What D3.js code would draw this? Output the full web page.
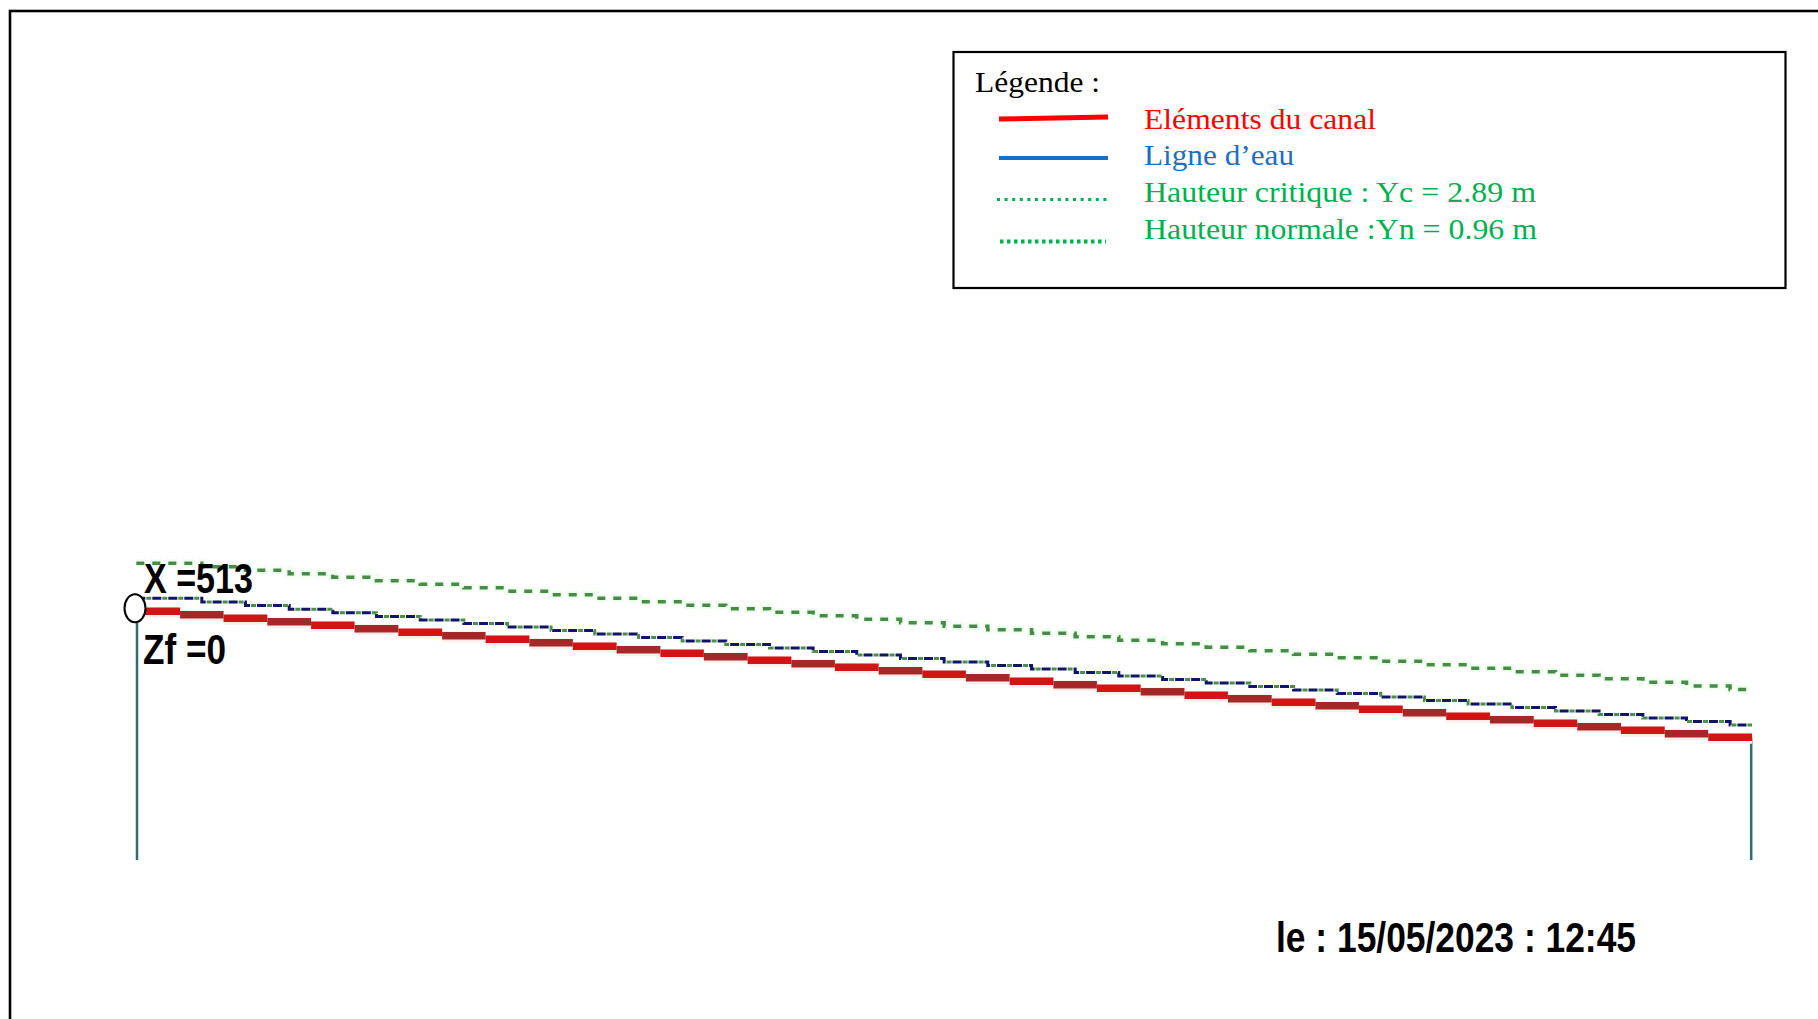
<!DOCTYPE html>
<html>
<head>
<meta charset="utf-8">
<script src="https://cdn.jsdelivr.net/npm/d3@7"></script>
<style>
  html, body { margin: 0; padding: 0; background: #fff; }
  svg { display: block; }
</style>
</head>
<body>
<script>
// ---------------- DATA ----------------
// element boundaries along the channel (m)
const stations = [0, 13.9, 27.7, 41.6, 55.5, 69.3, 83.2, 97.1, 110.9, 124.8, 138.6, 152.5,
  166.4, 180.2, 194.1, 208.0, 221.8, 235.7, 249.6, 263.4, 277.3, 291.2, 305.0, 318.9,
  332.8, 346.6, 360.5, 374.4, 388.2, 402.1, 415.9, 429.8, 443.7, 457.5, 471.4, 485.3,
  499.1, 513.0];
// bed elevation of each element (m)
const bedZf = [0.00, -0.21, -0.42, -0.63, -0.84, -1.06, -1.27, -1.48, -1.69, -1.90,
  -2.11, -2.32, -2.53, -2.74, -2.95, -3.17, -3.38, -3.59, -3.80, -4.01, -4.22, -4.43,
  -4.64, -4.85, -5.06, -5.28, -5.49, -5.70, -5.91, -6.12, -6.33, -6.54, -6.75, -6.96,
  -7.17, -7.39, -7.60];
// drawn water depth of each element (m)
const waterDepth = [0.78, 0.77, 0.76, 0.75, 0.75, 0.74, 0.74, 0.74, 0.74, 0.74, 0.74,
  0.74, 0.74, 0.74, 0.74, 0.74, 0.74, 0.74, 0.74, 0.74, 0.74, 0.74, 0.74, 0.74, 0.74,
  0.74, 0.74, 0.74, 0.74, 0.74, 0.74, 0.74, 0.74, 0.74, 0.74, 0.74, 0.74];
const Yc = 2.89;
const Yn = 0.96;
const legendItems = ["Eléments du canal", "Ligne d\u2019eau",
  "Hauteur critique : Yc = 2.89 m", "Hauteur normale :Yn = 0.96 m"];
const legendTitle = "Légende :";
const labelX = "X =513";
const labelZf = "Zf =0";
const stamp = "le : 15/05/2023 : 12:45";

// ---------------- DRAW ----------------
const W = 1818, H = 1019;
const svg = d3.select("body").append("svg").attr("width", W).attr("height", H);
svg.append("rect").attr("width", W).attr("height", H).attr("fill", "#fff");

// outer frame (cropped at right/bottom)
svg.append("rect").attr("x", 10).attr("y", 11).attr("width", 1900).attr("height", 1200)
  .attr("fill", "none").attr("stroke", "#000").attr("stroke-width", 2.6);

const x = d3.scaleLinear().domain([0, 513]).range([136.3, 1752]);
const y = d3.scaleLinear().domain([-10, 5]).range([777.2, 528.2]);

const nEl = bedZf.length;
const centers = d3.range(nEl).map(i => (stations[i] + stations[i + 1]) / 2);

function steppedPoints(levelFn) {
  const pts = [[stations[0], levelFn(0)]];
  for (let i = 0; i < nEl; i++) pts.push([centers[i], levelFn(i)]);
  pts.push([stations[nEl], levelFn(nEl - 1)]);
  return pts;
}
const stepLine = d3.line().x(d => x(d[0])).y(d => y(d[1])).curve(d3.curveStepAfter);

// vertical end walls
svg.append("line").attr("x1", x(stations[0]) + 0.7).attr("x2", x(stations[0]) + 0.7)
  .attr("y1", y(bedZf[0])).attr("y2", 860)
  .attr("stroke", "#2f6e6e").attr("stroke-width", 2.5);
svg.append("line").attr("x1", x(stations[nEl]) - 0.8).attr("x2", x(stations[nEl]) - 0.8)
  .attr("y1", y(bedZf[nEl - 1])).attr("y2", 860)
  .attr("stroke", "#2f6e6e").attr("stroke-width", 2.5);

// critical height line
const critPts = steppedPoints(i => bedZf[i] + Yc);
svg.append("path").attr("d", stepLine(critPts)).attr("fill", "none")
  .attr("stroke", "#effdef").attr("stroke-width", 8)
  .attr("stroke-dasharray", "12,4").attr("stroke-dashoffset", 2);
svg.append("path").attr("d", stepLine(critPts)).attr("fill", "none")
  .attr("stroke", "#468c46").attr("stroke-width", 3.5)
  .attr("stroke-dasharray", "8,8");

// water line + normal height line
const waterPts = steppedPoints(i => bedZf[i] + waterDepth[i]);
svg.append("path").attr("d", stepLine(waterPts)).attr("fill", "none")
  .attr("stroke", "#101565").attr("stroke-width", 3)
  .attr("stroke-dasharray", "9,7");
svg.append("path").attr("d", stepLine(waterPts)).attr("fill", "none")
  .attr("stroke", "#4b8f4b").attr("stroke-width", 3)
  .attr("stroke-dasharray", "5,11").attr("stroke-dashoffset", 6);

// channel elements (bed)
const els = d3.range(nEl);
svg.append("g").selectAll("line.halo").data(els).join("line")
  .attr("x1", i => x(stations[i])).attr("x2", i => x(stations[i + 1]))
  .attr("y1", i => y(bedZf[i]) + 1).attr("y2", i => y(bedZf[i]) + 1)
  .attr("stroke", "#ffeeee").attr("stroke-width", 11);
svg.append("g").selectAll("line.bed").data(els).join("line")
  .attr("x1", i => x(stations[i])).attr("x2", i => x(stations[i + 1]))
  .attr("y1", i => y(bedZf[i])).attr("y2", i => y(bedZf[i]))
  .attr("stroke", i => i % 2 === 0 ? "#d21414" : "#a52828")
  .attr("stroke-width", 7.5);

// upstream marker
svg.append("ellipse").attr("cx", x(stations[0]) - 1.3).attr("cy", y(bedZf[0]) - 3)
  .attr("rx", 10.5).attr("ry", 14)
  .attr("fill", "#fff").attr("stroke", "#000").attr("stroke-width", 2);

// pixel-style labels
function pixText(t, px, py, len, size) {
  svg.append("text").attr("x", px).attr("y", py)
    .attr("font-family", "'Liberation Sans', Arial, sans-serif")
    .attr("font-weight", "bold").attr("font-size", size)
    .attr("textLength", len).attr("lengthAdjust", "spacingAndGlyphs")
    .attr("fill", "#000").text(t);
}
pixText(labelX, 144, 593, 109, 43);
pixText(labelZf, 143, 664, 83, 43);
pixText(stamp, 1276, 952, 360, 43);

// legend
const lg = svg.append("g");
lg.append("rect").attr("x", 953.5).attr("y", 52).attr("width", 832).attr("height", 236)
  .attr("fill", "#fff").attr("stroke", "#000").attr("stroke-width", 2.2);

function serif(t, px, py, len, color) {
  lg.append("text").attr("x", px).attr("y", py)
    .attr("font-family", "'Liberation Serif', 'Times New Roman', serif")
    .attr("font-size", 29).attr("fill", color)
    .attr("textLength", len).attr("lengthAdjust", "spacingAndGlyphs").text(t);
}
serif(legendTitle, 975, 92, 125, "#000");
const legColors = ["#ff0000", "#1a6fc4", "#00b050", "#00b050"];
const legBase = [128.5, 165, 201.5, 238.5];
const legLen = [232, 150, 392, 393];
legendItems.forEach((t, i) => serif(t, 1144, legBase[i], legLen[i], legColors[i]));

lg.append("line").attr("x1", 999).attr("y1", 119).attr("x2", 1108).attr("y2", 117)
  .attr("stroke", "#ff0000").attr("stroke-width", 5);
lg.append("line").attr("x1", 999).attr("y1", 158).attr("x2", 1108).attr("y2", 158)
  .attr("stroke", "#1a6fc4").attr("stroke-width", 4);
lg.append("line").attr("x1", 997).attr("y1", 199.5).attr("x2", 1108).attr("y2", 199.5)
  .attr("stroke", "#00b050").attr("stroke-width", 3).attr("stroke-dasharray", "3,4.6");
lg.append("line").attr("x1", 1000).attr("y1", 241.5).attr("x2", 1106).attr("y2", 241.5)
  .attr("stroke", "#00b050").attr("stroke-width", 4).attr("stroke-dasharray", "3.5,3.5");
</script>
</body>
</html>
